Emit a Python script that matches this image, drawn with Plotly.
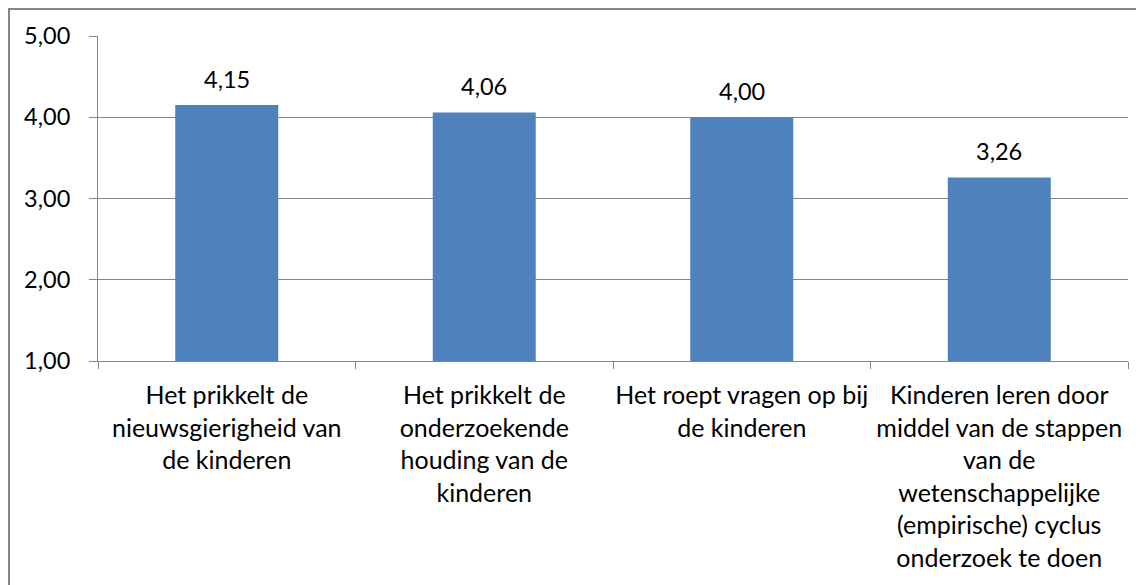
import plotly.graph_objects as go

categories = [
    "Het prikkelt de<br>nieuwsgierigheid van<br>de kinderen",
    "Het prikkelt de<br>onderzoekende<br>houding van de<br>kinderen",
    "Het roept vragen op bij<br>de kinderen",
    "Kinderen leren door<br>middel van de stappen<br>van de<br>wetenschappelijke<br>(empirische) cyclus<br>onderzoek te doen",
]
values = [4.15, 4.06, 4.00, 3.26]
y_ticks = [1, 2, 3, 4, 5]

font = dict(family="Lato, Calibri, sans-serif", size=25, color="black")
num_font = dict(family="Lato, Calibri, sans-serif", size=23.5, color="black")
grey = "#868686"

# page body has an 8px margin, so the figure is shrunk by that much
fig = go.Figure(
    go.Bar(x=categories, y=values, marker=dict(color="#4F81BD", line=dict(width=0)), width=0.4,
           hoverinfo="skip")
)

for c, v in zip(categories, values):
    fig.add_annotation(x=c, y=v, text=f"{v:.2f}".replace(".", ","), showarrow=False,
                       yanchor="bottom", yshift=10, font=num_font)

fig.update_layout(
    width=1136, height=577,
    margin=dict(l=90, r=16, t=28, b=224),
    paper_bgcolor="white", plot_bgcolor="white",
    font=font,
    separators=",.",
    showlegend=False,
    xaxis=dict(showline=True, linecolor=grey, linewidth=1, ticks="outside", tickson="boundaries",
               ticklen=7, tickcolor=grey, showgrid=False, tickfont=font, ticklabelstandoff=12,
               tickangle=0, automargin=False),
    yaxis=dict(range=[1, 5], tickvals=y_ticks, tickformat=".2f", showline=True, linecolor=grey,
               linewidth=1, ticks="outside", ticklen=8, tickcolor=grey, showgrid=True,
               gridcolor=grey, gridwidth=1, tickfont=num_font, zeroline=False,
               ticklabelstandoff=14, automargin=False),
    shapes=[dict(type="rect", xref="paper", yref="paper", x0=-0.0864, x1=1.05, y0=-1, y1=1.083,
                 line=dict(color=grey, width=2), layer="below")],
)

fig.write_html("out.html")
